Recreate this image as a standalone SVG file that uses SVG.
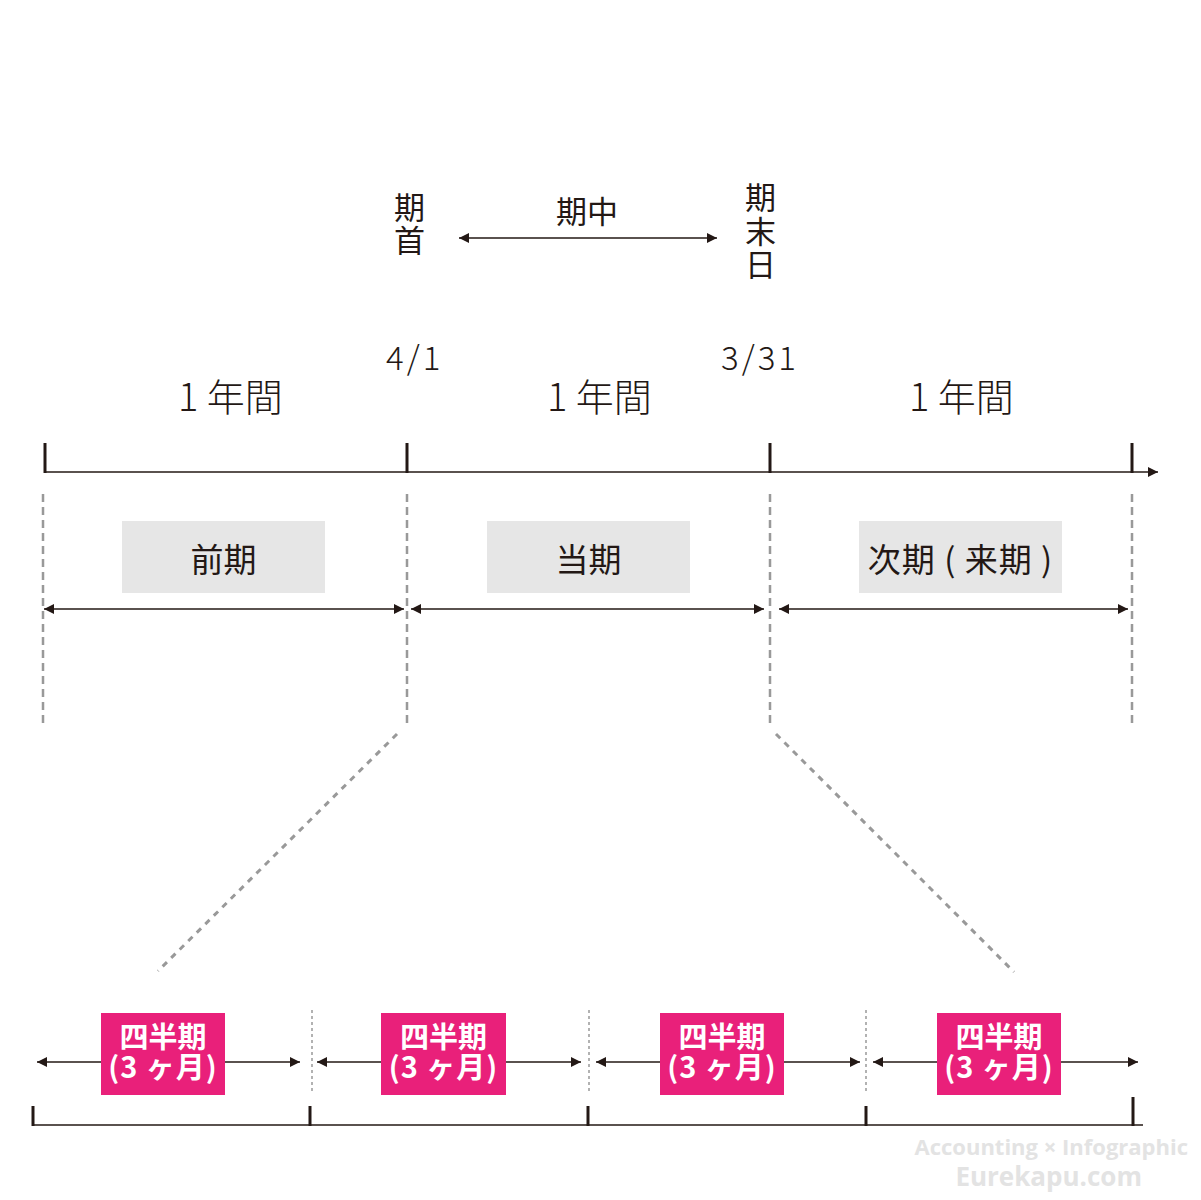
<svg xmlns="http://www.w3.org/2000/svg" width="1201" height="1200" viewBox="0 0 1201 1200">
<style>
text{font-family:"Noto Sans CJK JP","Noto Sans",sans-serif;fill:#231815}
.t32{font-size:31px}
.yr{font-size:38px;font-weight:300}
.dt{font-size:33px;font-weight:300;letter-spacing:3px}
.lbl{font-size:33px;text-anchor:middle}
.ln{stroke:#231815;stroke-width:1.3;fill:none}
.tk{stroke:#231815;stroke-width:3;fill:none}
.dash{stroke:#999;stroke-width:2.5;stroke-dasharray:8 5;fill:none}
.dot{stroke:#999;stroke-width:1.5;stroke-dasharray:3 3;fill:none}
.diag{stroke:#999;stroke-width:3;stroke-dasharray:6 6;fill:none}
.gbox{fill:#e6e6e6}
.pbox{fill:#e9207a}
.pt{fill:#fff;font-size:29px;font-weight:700;text-anchor:middle}
.wm{fill:#e3e3e3;font-family:"Open Sans","DejaVu Sans",sans-serif;font-weight:700}
</style>
<defs>
<marker id="ah" viewBox="0 0 10 10" refX="10" refY="5" markerWidth="10" markerHeight="10" markerUnits="userSpaceOnUse" orient="auto-start-reverse">
<path d="M0,0 L10,5 L0,10 z" fill="#231815"/>
</marker>
</defs>

<g id="top-labels">
<text class="t32" x="394" y="219">期</text>
<text class="t32" x="394" y="252">首</text>
<text class="t32" x="556" y="223">期中</text>
<text class="t32" x="745" y="209">期</text>
<text class="t32" x="745" y="243">末</text>
<text class="t32" x="745" y="276">日</text>
<text class="dt" x="386" y="370">4/1</text>
<text class="dt" x="721" y="370">3/31</text>
<text class="yr" x="178" y="411">1 年間</text>
<text class="yr" x="547" y="411">1 年間</text>
<text class="yr" x="909" y="411">1 年間</text>
</g>

<g id="connectors">
<line class="ln" x1="459" y1="238" x2="717" y2="238" marker-start="url(#ah)" marker-end="url(#ah)"/>
<line class="ln" x1="45" y1="472" x2="1158" y2="472" marker-end="url(#ah)"/>
<line class="tk" x1="45" y1="443" x2="45" y2="473"/>
<line class="tk" x1="407" y1="443" x2="407" y2="473"/>
<line class="tk" x1="770" y1="443" x2="770" y2="473"/>
<line class="tk" x1="1132" y1="443" x2="1132" y2="473"/>
<line class="dash" x1="43" y1="494" x2="43" y2="727"/>
<line class="dash" x1="407" y1="494" x2="407" y2="727"/>
<line class="dash" x1="770" y1="494" x2="770" y2="727"/>
<line class="dash" x1="1132" y1="494" x2="1132" y2="727"/>
<line class="ln" x1="44" y1="609" x2="404" y2="609" marker-start="url(#ah)" marker-end="url(#ah)"/>
<line class="ln" x1="411" y1="609" x2="764" y2="609" marker-start="url(#ah)" marker-end="url(#ah)"/>
<line class="ln" x1="779" y1="609" x2="1128" y2="609" marker-start="url(#ah)" marker-end="url(#ah)"/>
<line class="diag" x1="397" y1="734" x2="158" y2="971"/>
<line class="diag" x1="776" y1="734" x2="1014" y2="972"/>
<line class="dot" x1="312" y1="1010" x2="312" y2="1094"/>
<line class="dot" x1="589" y1="1010" x2="589" y2="1094"/>
<line class="dot" x1="866" y1="1010" x2="866" y2="1094"/>
<line class="ln" x1="37" y1="1062" x2="300" y2="1062" marker-start="url(#ah)" marker-end="url(#ah)"/>
<line class="ln" x1="317" y1="1062" x2="581" y2="1062" marker-start="url(#ah)" marker-end="url(#ah)"/>
<line class="ln" x1="596" y1="1062" x2="860" y2="1062" marker-start="url(#ah)" marker-end="url(#ah)"/>
<line class="ln" x1="873" y1="1062" x2="1138" y2="1062" marker-start="url(#ah)" marker-end="url(#ah)"/>
<line class="ln" x1="32" y1="1125" x2="1143" y2="1125"/>
<line class="tk" x1="33" y1="1106" x2="33" y2="1126"/>
<line class="tk" x1="310" y1="1106" x2="310" y2="1126"/>
<line class="tk" x1="588" y1="1106" x2="588" y2="1126"/>
<line class="tk" x1="866" y1="1106" x2="866" y2="1126"/>
<line class="tk" x1="1133" y1="1097" x2="1133" y2="1126"/>
</g>

<g id="node-zenki">
<rect class="gbox" x="122" y="521" width="203" height="72"/>
<text class="lbl" x="223.5" y="572">前期</text>
</g>
<g id="node-touki">
<rect class="gbox" x="487" y="521" width="203" height="72"/>
<text class="lbl" x="588.5" y="572">当期</text>
</g>
<g id="node-jiki">
<rect class="gbox" x="859" y="521" width="203" height="72"/>
<text class="lbl" x="960.5" y="572" letter-spacing="1">次期 ( 来期 )</text>
</g>

<g id="node-q1">
<rect class="pbox" x="101" y="1013" width="124" height="82"/>
<text class="pt" x="163" y="1048">四半期</text>
<text class="pt" x="163" y="1078" letter-spacing="1">(3 ヶ月)</text>
</g>
<g id="node-q2">
<rect class="pbox" x="381" y="1013" width="125" height="82"/>
<text class="pt" x="443.5" y="1048">四半期</text>
<text class="pt" x="443.5" y="1078" letter-spacing="1">(3 ヶ月)</text>
</g>
<g id="node-q3">
<rect class="pbox" x="660" y="1013" width="124" height="82"/>
<text class="pt" x="722" y="1048">四半期</text>
<text class="pt" x="722" y="1078" letter-spacing="1">(3 ヶ月)</text>
</g>
<g id="node-q4">
<rect class="pbox" x="937" y="1013" width="124" height="82"/>
<text class="pt" x="999" y="1048">四半期</text>
<text class="pt" x="999" y="1078" letter-spacing="1">(3 ヶ月)</text>
</g>

<g id="watermark">
<text class="wm" x="1188" y="1155" font-size="22" text-anchor="end">Accounting × Infographic</text>
<text class="wm" x="1142" y="1186" font-size="26" text-anchor="end">Eurekapu.com</text>
</g>
</svg>
